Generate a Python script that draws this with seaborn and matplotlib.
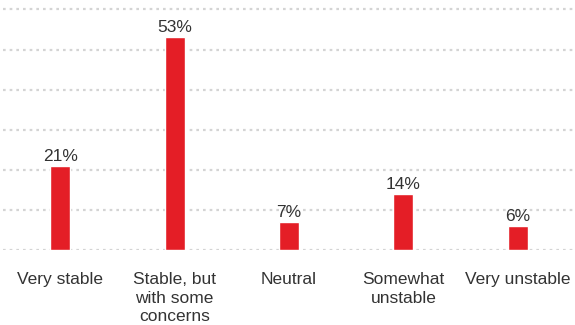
import matplotlib
matplotlib.use("Agg")
import matplotlib.pyplot as plt
import seaborn as sns
import pandas as pd

categories = ["Very stable", "Stable, but\nwith some\nconcerns", "Neutral",
              "Somewhat\nunstable", "Very unstable"]
shares = [21, 53, 7, 14, 6]
value_labels = ["21%", "53%", "7%", "14%", "6%"]

df = pd.DataFrame({"category": categories, "share": shares})

sns.set_theme(style="white")
plt.rcParams["font.family"] = ["Liberation Sans", "DejaVu Sans"]

fig = plt.figure(figsize=(5.75, 3.25), dpi=100)
ax = fig.add_axes([3 / 575, 75 / 325, 572 / 575, 245 / 325])

sns.barplot(data=df, x="category", y="share", color="#E41E26",
            saturation=1, width=0.175, ax=ax)

ax.set_ylim(0, 61.1)
ax.set_xlim(-0.5, 4.5)
ax.set_yticks(range(0, 61, 10))
ax.yaxis.grid(True, color="#d4d4d4", linestyle=(0, (1.2, 1.8)), linewidth=1.6)
ax.set_axisbelow(True)
for s in ax.spines.values():
    s.set_visible(False)
ax.tick_params(axis="y", left=False, labelleft=False)
ax.tick_params(axis="x", bottom=False, pad=10, labelsize=12.5, colors="#333333")
ax.set_xlabel("")
ax.set_ylabel("")
for lbl in ax.get_xticklabels():
    lbl.set_linespacing(1.3)
    lbl.set_verticalalignment("top")

for i, (v, t) in enumerate(zip(shares, value_labels)):
    ax.annotate(t, (i, v), xytext=(0, 1.5), textcoords="offset points",
                ha="center", va="bottom", fontsize=12.5, color="#333333")

fig.savefig("out.png", dpi=100)
